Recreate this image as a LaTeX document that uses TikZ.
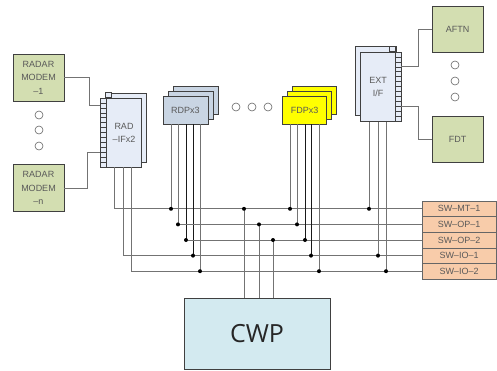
\documentclass[tikz,border=0pt]{standalone}
\usepackage{fontspec}
\setsansfont{Liberation Sans}
\newfontfamily\cwpfont{Open Sans}
\usetikzlibrary{calc,positioning}
\definecolor{grnfill}{HTML}{D3DEB1}
\definecolor{iffill}{HTML}{E6ECF7}
\definecolor{rdpfill}{HTML}{C9D5E3}
\definecolor{fdpfill}{HTML}{FFFF00}
\definecolor{swfill}{HTML}{F8CCAA}
\definecolor{cwpfill}{HTML}{D3EAF0}
\tikzset{
  dob/.style={draw=black!75,line width=0.6pt,inner sep=0pt,align=center,
    text=black!65,font=\sffamily\fontsize{9}{13.5}\selectfont},
  grn/.style={dob,fill=grnfill,minimum width=51pt,minimum height=47pt},
  ifb/.style={dob,fill=iffill,minimum width=41pt,minimum height=69pt},
  port/.style={draw=black!75,line width=0.5pt,fill=iffill,minimum width=6pt,
    minimum height=4.93pt,inner sep=0pt},
  rdpb/.style={dob,fill=rdpfill,minimum width=45pt,minimum height=28pt},
  fdpb/.style={dob,fill=fdpfill,minimum width=44pt,minimum height=28pt},
  swb/.style={dob,fill=swfill,draw=black!60,minimum width=74pt,minimum height=15.6pt},
  felirat/.style={align=center,text=black!65,font=\sffamily\fontsize{9}{13}\selectfont},
  kor/.style={circle,draw=black!60,line width=0.6pt,fill=white,minimum size=8pt,inner sep=0pt},
  pont/.style={circle,fill=black,inner sep=0pt,minimum size=4pt},
  vez/.style={draw=black!55,line width=0.8pt},
  vezk/.style={draw=black!90,line width=0.8pt},
}
\begin{document}
\begin{tikzpicture}[x=1pt,y=-1pt]
  \useasboundingbox (0,0) rectangle (497,370);
  % radar modems
  \node[grn] (modem1) at (38.5,77.5) {RADAR\\MODEM\\--1};
  \node[grn] (modemn) at (38.5,188) {RADAR\\MODEM\\--n};
  \foreach \y in {115,130,146} \node[kor] (mk\y) at (39,\y) {};
  % RAD-IF, two cards
  \node[ifb] (radb) at (125.5,127.5) {};
  \foreach \k in {1,...,14} \node[port] (rbp\k) at (108,89.535+4.93*\k) {};
  \node[ifb] (rad) at (120.5,132.5) {};
  \foreach \k in {1,...,14} \node[port] (rp\k) at (103,95.535+4.93*\k) {};
  \node[felirat] (radt) at (124,132.5) {RAD\\--IFx2};
  % RDP and FDP, three cards each
  \node[rdpb] (rdpc) at (195.5,100) {};
  \node[rdpb] (rdpb) at (190.5,105) {};
  \node[rdpb] (rdp) at (185.5,110) {RDPx3};
  \foreach \x in {236,252,268} \node[kor] (dk\x) at (\x,107) {};
  \node[fdpb] (fdpc) at (314.5,100) {};
  \node[fdpb] (fdpb) at (309.5,105) {};
  \node[fdpb] (fdp) at (304.5,110) {FDPx3};
  % EXT I/F, two cards
  \node[ifb] (extb) at (375.5,81) {};
  \foreach \k in {1,...,14} \node[port] (ebp\k) at (392.5,43.535+4.93*\k) {};
  \node[ifb] (ext) at (381,87) {};
  \foreach \k in {1,...,14} \node[port] (ep\k) at (398,49.535+4.93*\k) {};
  \node[felirat] (extt) at (378,87) {EXT\\I/F};
  % external links
  \node[grn,minimum height=46pt] (aftn) at (457.5,29) {AFTN};
  \node[grn,minimum height=46pt] (fdt) at (457.5,139) {FDT};
  \foreach \y in {65,81,97} \node[kor] (ek\y) at (455,\y) {};
  % switches
  \foreach \k/\t in {1/SW--MT--1,2/SW--OP--1,3/SW--OP--2,4/SW--IO--1,5/SW--IO--2}
    \node[swb] (sw\k) at (459,193.2+15.6*\k) {\t};
  \node[dob,fill=cwpfill,minimum width=146pt,minimum height=71pt,text=black!85,
    font=\cwpfont\fontsize{25}{25}\selectfont] (cwp) at (257,333.5) {CWP};

  \draw[vez] (modem1.east) -- ++(25,0) |- (rp2.west);
  \draw[vez] (modemn.east) -- ++(23,0) |- (rp12.north west);
  \draw[vez] (ep4.north east) -- ++(17,0) |- (aftn.west);
  \draw[vez] (ep12.north east) -- ++(17,0) |- (fdt.west);

  % RAD-IF to the buses
  \foreach \dx/\k in {-6.5/1,2.5/4,10.5/5}
    \draw[vez] ($(rad.south)+(\dx,0)$) |- (sw\k.west);
  % RDP
  \foreach \dx/\k/\s in {-14.5/1/vez,-7.5/2/vez,0.5/3/vezk,7.5/4/vezk,14.5/5/vez}
    \draw[\s] ($(rdp.south)+(\dx,0)$) coordinate (t) -- (t |- sw\k.west) node[pont] (rd\k) {};
  \draw[vez] (rd2) -- (sw2.west);
  \draw[vez] (rd3) -- (sw3.west);
  % FDP
  \foreach \dx/\k/\s in {-14.5/1/vez,-7.5/2/vez,0.5/3/vezk,6.5/4/vezk,14.5/5/vez}
    \draw[\s] ($(fdp.south)+(\dx,0)$) coordinate (t) -- (t |- sw\k.west) node[pont] (fd\k) {};
  % EXT I/F
  \foreach \dx/\k in {-12/1,-3/4,5/5}
    \draw[vez] ($(ext.south)+(\dx,0)$) coordinate (t) -- (t |- sw\k.west) node[pont] (ed\k) {};
  % CWP
  \foreach \dx/\k in {-13/1,2/2,16/3}
    \draw[vez] ($(cwp.north)+(\dx,0)$) coordinate (t) -- (t |- sw\k.west) node[pont] (cd\k) {};
\end{tikzpicture}
\end{document}
